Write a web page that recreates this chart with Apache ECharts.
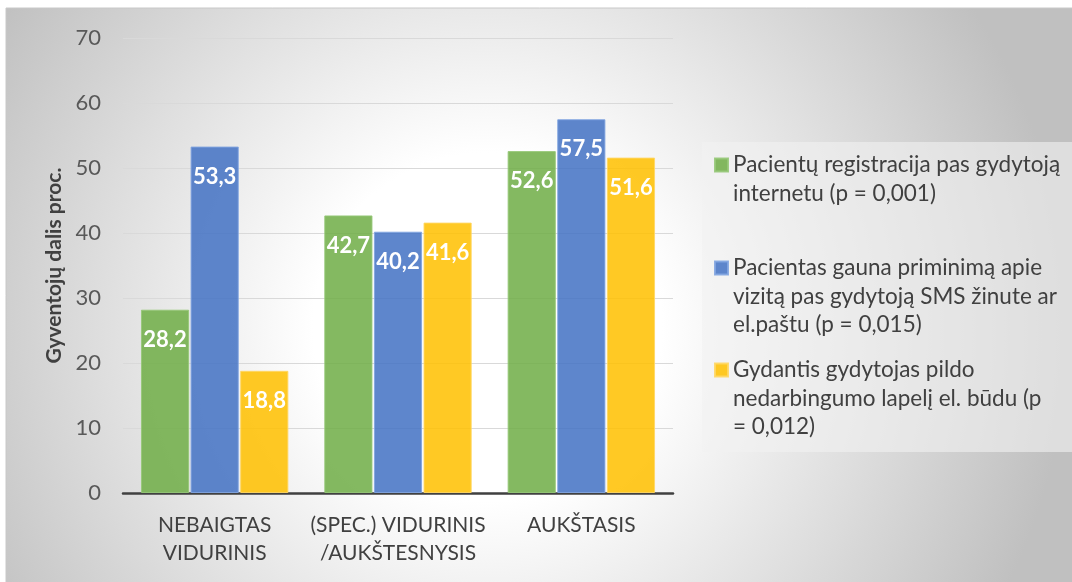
<!DOCTYPE html>
<html>
<head>
<meta charset="utf-8">
<script src="https://cdn.jsdelivr.net/npm/echarts@6/dist/echarts.min.js"></script>
<style>
  html, body { margin: 0; padding: 0; background: #ffffff; }
  #chart { width: 1072px; height: 582px; }
</style>
</head>
<body>
<div id="chart"></div>
<script>
// Education level groups
const categories = ['NEBAIGTAS\nVIDURINIS', '(SPEC.) VIDURINIS\n/AUKŠTESNYSIS', 'AUKŠTASIS'];

// Series names and their wrapped legend lines
const seriesNames = [
  'Pacientų registracija pas gydytoją internetu (p = 0,001)',
  'Pacientas gauna priminimą apie vizitą pas gydytoją SMS žinute ar el.paštu (p = 0,015)',
  'Gydantis gydytojas pildo nedarbingumo lapelį el. būdu (p = 0,012)'
];
const legendLines = [
  ['Pacientų registracija pas gydytoją', 'internetu (p = 0,001)'],
  ['Pacientas gauna priminimą apie', 'vizitą pas gydytoją SMS žinute ar', 'el.paštu (p = 0,015)'],
  ['Gydantis gydytojas pildo', 'nedarbingumo lapelį el. būdu (p', '= 0,012)']
];

// Share of residents, percent
const registrationOnline = [28.2, 42.7, 52.6];
const smsReminder = [53.3, 40.2, 57.5];
const eSickLeave = [18.8, 41.6, 51.6];

const yAxisTitle = 'Gyventojų dalis proc.';
const yMin = 0, yMax = 70, yStep = 10;

const FONT = 'Lato, "Open Sans", sans-serif';
const LINE_H = 28.5;
const palette = ['rgba(112,173,71,0.86)', 'rgba(68,114,196,0.86)', 'rgba(255,192,0,0.86)'];
const edges = ['rgba(150,200,120,0.9)', 'rgba(130,165,225,0.9)', 'rgba(255,215,100,0.9)'];
const valuesBySeries = [registrationOnline, smsReminder, eSickLeave];

// Legend entries: y of the icon centre, aligned with the first text line
const legendIconCenters = [165, 268, 370];

const chart = echarts.init(document.getElementById('chart'), null, { renderer: 'canvas' });

// The legend centres the icon on the text block, so blank lines are
// prepended to keep the icon level with the first real line.
const legends = seriesNames.map((name, i) => {
  const n = legendLines[i].length;
  const blanks = new Array(n - 1).fill(' ');
  return {
    show: true,
    orient: 'vertical',
    left: 714,
    top: legendIconCenters[i] - (2 * n - 1) * LINE_H / 2,
    padding: 0,
    itemWidth: 13,
    itemHeight: 13,
    icon: 'rect',
    selectedMode: false,
    data: [name],
    formatter: () => blanks.concat(legendLines[i]).join('\n'),
    textStyle: {
      fontFamily: FONT,
      fontSize: 22.5,
      color: '#404040',
      lineHeight: LINE_H
    }
  };
});

const option = {
  animation: false,
  color: palette,
  graphic: [
    {
      type: 'rect',
      z: -100,
      silent: true,
      shape: { x: 6, y: 8, width: 1070, height: 580 },
      style: {
        fill: {
          type: 'radial', x: 0.45, y: 0.55, r: 1.0,
          colorStops: [
            { offset: 0, color: '#ffffff' },
            { offset: 0.3, color: '#ffffff' },
            { offset: 1, color: '#c0c0c0' }
          ]
        },
        stroke: '#c8c8c8',
        lineWidth: 1
      }
    },
    {
      type: 'rect',
      z: -50,
      silent: true,
      shape: { x: 702, y: 142, width: 370, height: 310 },
      style: { fill: 'rgba(242,242,242,0.6)' }
    }
  ],
  grid: { left: 123, right: 399, top: 38, bottom: 89, containLabel: false },
  legend: legends,
  xAxis: {
    type: 'category',
    data: categories,
    axisLine: { show: true, lineStyle: { color: '#404040', width: 2.5 } },
    axisTick: { show: false },
    axisLabel: {
      fontFamily: FONT,
      fontSize: 21,
      color: '#404040',
      lineHeight: 28,
      margin: 18,
      interval: 0
    }
  },
  yAxis: {
    type: 'value',
    min: yMin,
    max: yMax,
    interval: yStep,
    name: yAxisTitle,
    nameLocation: 'middle',
    nameGap: 57,
    nameRotate: 90,
    nameTextStyle: { fontFamily: FONT, fontSize: 21, fontWeight: 'bold', color: '#404040' },
    axisLine: { show: false },
    axisTick: { show: false },
    axisLabel: { fontFamily: FONT, fontSize: 22, color: '#595959', margin: 22 },
    splitLine: { lineStyle: { color: '#d9d9d9', width: 1 } }
  },
  series: seriesNames.map((name, i) => ({
    name: name,
    type: 'bar',
    data: valuesBySeries[i],
    barGap: '3%',
    barCategoryGap: '19.6%',
    itemStyle: { color: palette[i], borderColor: edges[i], borderWidth: 1 },
    label: {
      show: true,
      position: 'insideTop',
      distance: 19,
      color: '#ffffff',
      fontFamily: FONT,
      fontSize: 22,
      fontWeight: 'bold',
      formatter: p => p.value.toFixed(1).replace('.', ',')
    }
  }))
};

chart.setOption(option);
</script>
</body>
</html>
